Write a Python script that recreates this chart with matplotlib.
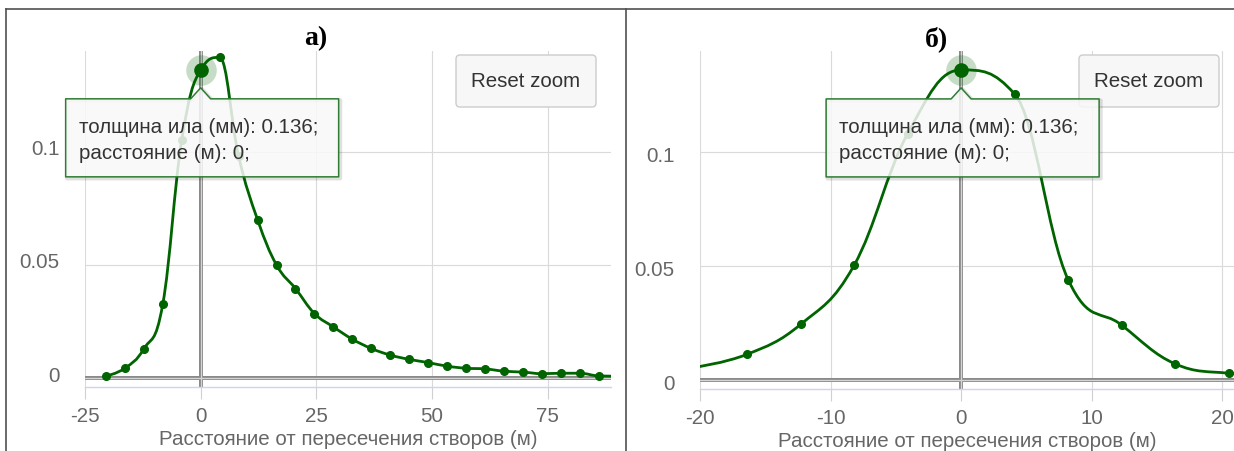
import numpy as np
import matplotlib
matplotlib.use("Agg")
import matplotlib.pyplot as plt
from matplotlib.path import Path
from matplotlib.patches import PathPatch, Polygon, FancyBboxPatch
from matplotlib.lines import Line2D
from matplotlib.transforms import IdentityTransform, ScaledTranslation

plt.rcParams['font.family'] = ['Liberation Sans', 'DejaVu Sans']
plt.rcParams['axes.unicode_minus'] = False

# --- data ---
dist_a = [-20.5, -16.4, -12.3, -8.2, -4.1, 0.0, 4.1, 8.2, 12.3, 16.4, 20.5, 24.6,
          28.7, 32.8, 36.9, 41.0, 45.1, 49.2, 53.3, 57.4, 61.5, 65.6, 69.7, 73.8,
          77.9, 82.0, 86.1, 90.2]
silt_a = [0.001, 0.0045, 0.013, 0.0326, 0.105, 0.136, 0.1415, 0.098, 0.070, 0.050,
          0.0396, 0.0286, 0.0227, 0.0173, 0.0132, 0.0103, 0.0084, 0.0070, 0.0054,
          0.0045, 0.0042, 0.0032, 0.0028, 0.0021, 0.0023, 0.0023, 0.0011, 0.0010]

dist_b = [-20.5, -16.4, -12.3, -8.2, -4.1, 0.0, 4.1, 8.2, 12.3, 16.4, 20.5, 24.6]
silt_b = [0.0055, 0.0113, 0.0244, 0.0503, 0.108, 0.136, 0.1254, 0.044, 0.0241,
          0.0071, 0.0030, 0.0020]

xticks_a = [-25, 0, 25, 50, 75]
xticks_b = [-20, -10, 0, 10, 20]
yticks = [0, 0.05, 0.1]
ytick_labels = ["0", "0.05", "0.1"]

xlabel = "Расстояние от пересечения створов (м)"
tip_lines = ["толщина ила (мм): 0.136;", "расстояние (м): 0;"]
hover_x, hover_y = 0.0, 0.136

W, H = 1234, 452
green = "#006400"
grid_c = "#dadada"
label_c = "#666666"
fs = 14.8


def spline_path(xs, ys, smoothing=1.5):
    # highcharts-like spline through the points
    n = len(xs)
    lc = [None] * n
    rc = [None] * n
    d = smoothing + 1
    for i in range(1, n - 1):
        px, py = xs[i], ys[i]
        lx, ly = xs[i - 1], ys[i - 1]
        nx, ny = xs[i + 1], ys[i + 1]
        lcx = (smoothing * px + lx) / d
        lcy = (smoothing * py + ly) / d
        rcx = (smoothing * px + nx) / d
        rcy = (smoothing * py + ny) / d
        corr = (rcy - lcy) * (rcx - px) / (rcx - lcx) + py - rcy
        lcy += corr
        rcy += corr
        if lcy > ly and lcy > py:
            lcy = max(ly, py); rcy = 2 * py - lcy
        elif lcy < ly and lcy < py:
            lcy = min(ly, py); rcy = 2 * py - lcy
        if rcy > ny and rcy > py:
            rcy = max(ny, py); lcy = 2 * py - rcy
        elif rcy < ny and rcy < py:
            rcy = min(ny, py); lcy = 2 * py - rcy
        lc[i] = (lcx, lcy)
        rc[i] = (rcx, rcy)
    verts = [(xs[0], ys[0])]
    codes = [Path.MOVETO]
    for i in range(1, n):
        c1 = rc[i - 1] if rc[i - 1] else (xs[i - 1], ys[i - 1])
        c2 = lc[i] if lc[i] else (xs[i], ys[i])
        verts += [c1, c2, (xs[i], ys[i])]
        codes += [Path.CURVE4] * 3
    return Path(verts, codes)


def px(x, y):
    # picture pixel (y down) -> display
    return (x, H - y)


fig = plt.figure(figsize=(W / 100, H / 100), dpi=100)
fig.patch.set_facecolor("white")


def make_panel(rect, xs, ys, xlim, xticks, ylim, label_shift):
    x0, y0, x1, y1 = rect
    ax = fig.add_axes([x0 / W, 1 - y1 / H, (x1 - x0) / W, (y1 - y0) / H])
    ax.set_xlim(*xlim)
    ax.set_ylim(*ylim)
    ax.set_xticks(xticks)
    ax.set_yticks(yticks)
    ax.set_yticklabels(ytick_labels)
    for s in ["top", "left", "right"]:
        ax.spines[s].set_visible(False)
    ax.spines["bottom"].set_color("#ccd6eb")
    ax.spines["bottom"].set_linewidth(1.0)
    ax.grid(True, color=grid_c, linewidth=0.8)
    ax.set_axisbelow(True)
    ax.tick_params(axis="x", length=8.5, width=0.8, color="#d0d0d0", pad=5,
                   labelsize=fs, labelcolor=label_c)
    ax.tick_params(axis="y", length=0, pad=18.5, labelsize=fs, labelcolor=label_c)
    for lbl in ax.get_yticklabels():
        lbl.set_transform(lbl.get_transform() +
                          ScaledTranslation(0, label_shift / 100, fig.dpi_scale_trans))
    ax.set_xlabel(xlabel, fontsize=fs, color=label_c, labelpad=3)

    # zero plot lines
    for lw, c in [(4.0, "#8a8a8a"), (1.3, "#d4d4d4")]:
        ax.axhline(0, color=c, lw=lw * 0.72, zorder=2)
        ax.axvline(0, color=c, lw=lw * 0.72, zorder=2)

    ax.add_patch(PathPatch(spline_path(xs, ys), fill=False, ec=green, lw=2.0, zorder=3))
    ax.plot(xs, ys, "o", color=green, ms=5.5, ls="none", zorder=4)
    ax.plot(hover_x, hover_y, "o", color=green, alpha=0.22, ms=22, mec="none",
            zorder=4, clip_on=False)
    ax.plot(hover_x, hover_y, "o", color=green, ms=9.5, zorder=5, clip_on=False)

    # reset zoom button
    bx1, by0 = x1 - 15, y0 + 4
    bw, bh = 140, 52
    fig.add_artist(FancyBboxPatch(px(bx1 - bw, by0 + bh), bw, bh,
                                  boxstyle="round,pad=0,rounding_size=4",
                                  transform=IdentityTransform(), fc="#f7f7f7",
                                  ec="#cccccc", lw=1.0))
    fig.text(*px(bx1 - bw / 2, by0 + bh / 2), "Reset zoom", transform=IdentityTransform(),
             ha="center", va="center", fontsize=fs, color="#333333")

    # tooltip anchored to the hovered point
    axp, ayp = ax.transData.transform((hover_x, hover_y))
    tl, tr = axp - 135, axp + 138
    tt, tb = ayp - 29, ayp - 107
    apex = ayp - 18
    verts = [(tl, tt), (axp - 10, tt), (axp, apex), (axp + 10, tt), (tr, tt),
             (tr, tb), (tl, tb)]
    shadow = [(vx + 1.5, vy - 1.5) for vx, vy in verts]
    fig.add_artist(Polygon(shadow, closed=True, transform=IdentityTransform(),
                           fc="none", ec="black", alpha=0.12, lw=3, joinstyle="round"))
    fig.add_artist(Polygon(verts, closed=True, transform=IdentityTransform(),
                           fc=(249 / 255, 249 / 255, 249 / 255, 0.85), ec="#2e7d32",
                           lw=1.1, joinstyle="round"))
    for k, line in enumerate(tip_lines):
        fig.text(tl + 13, tt - 28 - 26 * k, line, transform=IdentityTransform(),
                 ha="left", va="center", fontsize=fs, color="#333333")
    return ax


ax_a = make_panel((85, 52, 611, 388.3), dist_a, silt_a, (-25, 88.7), xticks_a,
                  (-0.0039, 0.1443), 5)
ax_b = make_panel((700, 52, 1234, 390), dist_b, silt_b, (-20, 20.9), xticks_b,
                  (-0.0039, 0.1443), -1)

# panel letters
fig.text(*px(316, 39), "а)", transform=IdentityTransform(), ha="center", va="center",
         fontsize=20, fontweight="bold", family="Liberation Serif", color="black")
fig.text(*px(936, 39), "б)", transform=IdentityTransform(), ha="center", va="center",
         fontsize=20, fontweight="bold", family="Liberation Serif", color="black")

# table cell borders
for (xa, ya), (xb, yb) in [((6, 10), (1234, 10)), ((6, 10), (6, 452)),
                           ((626, 10), (626, 452))]:
    fig.add_artist(Line2D([xa, xb], [H - ya, H - yb], transform=IdentityTransform(),
                          color="#505050", lw=1.2))

fig.savefig("out.png", dpi=100)
